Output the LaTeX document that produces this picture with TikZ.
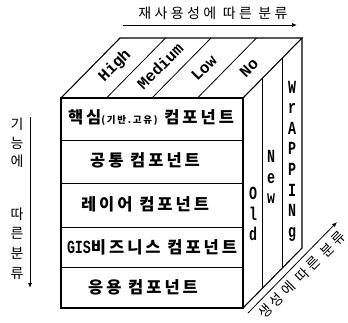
\documentclass[tikz,border=0pt]{standalone}
\usepackage{fontspec}
\usetikzlibrary{arrows.meta}
\newfontfamily\kr{Noto Sans CJK KR}
\newfontfamily\krsp[LetterSpace=18]{Noto Sans CJK KR}
\newfontfamily\krax[LetterSpace=24]{Noto Sans CJK KR}
\newfontfamily\monob[FakeStretch=0.72]{Liberation Mono}
\newfontfamily\mono{Liberation Mono}
\tikzset{
  cube/.style={line width=1.1pt},
  divl/.style={line width=0.8pt},
  rowlabel/.style={font={\krsp\bfseries\fontsize{16.5}{16.5}\selectfont}, inner sep=0pt},
  toplabel/.style={font={\mono\bfseries\fontsize{16}{16}\selectfont}, rotate=45, inner sep=0pt},
  sidelabel/.style={font={\monob\bfseries\fontsize{18.5}{20.6}\selectfont}, align=center, inner sep=0pt},
  axislabel/.style={font={\krax\fontsize{14}{14}\selectfont}, inner sep=0pt},
  axisarrow/.style={line width=0.8pt, -{Latex[length=5pt,width=4pt]}}
}
\begin{document}
\begin{tikzpicture}[x=1pt,y=-1pt]
\useasboundingbox (0,0) rectangle (348,322);
% cube corners
\coordinate (FTL) at (61,98);
\coordinate (FTR) at (243,98);
\coordinate (FBL) at (61,308);
\coordinate (FBR) at (243,308);
\coordinate (BTL) at (120,38);
\coordinate (BTR) at (302,38);
\coordinate (BBR) at (302,248);
% front face
\draw[cube] (FTL) -- (FTR) -- (FBR) -- (FBL) -- cycle;
% top face
\draw[cube] (FTL) -- (BTL) -- (BTR) -- (FTR);
% right face
\draw[cube] (BTR) -- (BBR) -- (FBR);
% top dividers
\foreach \k in {1,2,3} \draw[divl] ({61+45.5*\k},98) -- ({120+45.5*\k},38);
% right dividers
\foreach \k in {1,2} \draw[divl] ({243+59*\k/3},{98-60*\k/3}) -- ({243+59*\k/3},{308-60*\k/3});
% rows
\foreach \y in {140,183,227,267} \draw[divl] (61,\y) -- (243,\y);
% top labels
\node[toplabel] (high) at (115,66) {High};
\node[toplabel] (medium) at (160,66) {Medium};
\node[toplabel] (low) at (204,68) {Low};
\node[toplabel] (no) at (249,68) {No};
% side labels
\node[sidelabel] (old) at (253,214) {O\\l\\d};
\node[sidelabel] (new) at (271,177) {N\\e\\w};
\node[sidelabel] (wrap) at (292,161) {W\\r\\A\\P\\P\\I\\N\\g};
% row labels
\node[rowlabel] (r1) at (151,118) {핵심{\fontsize{9.5}{9.5}\selectfont(기반.고유)} 컴포넌트};
\node[rowlabel] (r2) at (145,160) {공통 컴포넌트};
\node[rowlabel] (r3) at (145,204) {레이어 컴포넌트};
\node[rowlabel] (r4) at (152,247) {{\monob\bfseries\fontsize{18.5}{18.5}\selectfont GIS}비즈니스 컴포넌트};
\node[rowlabel] (r5) at (143,287) {응용 컴포넌트};
% top axis
\coordinate (ta1) at (123,25);
\coordinate (ta2) at (297,25);
\draw[axisarrow] (ta1) -- (ta2);
\node[axislabel] (toptext) at (213,13) {재사용성에 따른 분류};
% left axis
\coordinate (la1) at (30,117);
\coordinate (la2) at (30,288);
\draw[axisarrow] (la1) -- (la2);
\node[axislabel] (l1) at (17,124) {기};
\node[axislabel] (l2) at (17,143) {능};
\node[axislabel] (l3) at (17,161) {에};
\node[axislabel] (l4) at (17,214) {따};
\node[axislabel] (l5) at (17,233) {른};
\node[axislabel] (l6) at (17,253) {분};
\node[axislabel] (l7) at (17,273) {류};
% diagonal axis
\coordinate (da1) at (248,313);
\coordinate (da2) at (337,222);
\draw[axisarrow] (da1) -- (da2);
\node[axislabel, rotate=45] (diagtext) at (302,275) {생성에 따른 분류};
\end{tikzpicture}
\end{document}
